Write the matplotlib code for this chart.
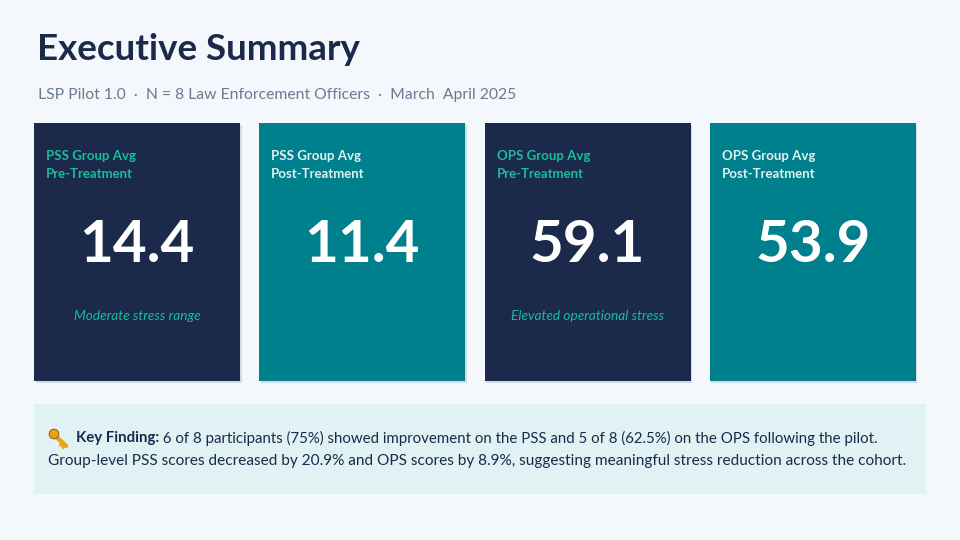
import matplotlib.pyplot as plt
from matplotlib.patches import Rectangle, Circle

# Card data
card_labels = [
    "PSS Group Avg\nPre-Treatment",
    "PSS Group Avg\nPost-Treatment",
    "OPS Group Avg\nPre-Treatment",
    "OPS Group Avg\nPost-Treatment",
]
card_values = [14.4, 11.4, 59.1, 53.9]
card_notes = ["Moderate stress range", "", "Elevated operational stress", ""]
card_kind = ["pre", "post", "pre", "post"]

title = "Executive Summary"
subtitle = "LSP Pilot 1.0  \u00b7  N = 8 Law Enforcement Officers  \u00b7  March  April 2025"
finding_bold = "Key Finding:"
finding_line1 = " 6 of 8 participants (75%) showed improvement on the PSS and 5 of 8 (62.5%) on the OPS following the pilot."
finding_line2 = "Group-level PSS scores decreased by 20.9% and OPS scores by 8.9%, suggesting meaningful stress reduction across the cohort."

BG = "#F4F7FB"
NAVY = "#1B2A4A"
TEAL = "#007F8C"
GREEN = "#1ABC9C"
LIGHT = "#E0F2F1"
BOX = "#E0F2F4"
FONT = "Lato"

fig = plt.figure(figsize=(9.6, 5.4), dpi=100, facecolor=BG)
ax = fig.add_axes([0, 0, 1, 1])
ax.set_xlim(0, 960)
ax.set_ylim(540, 0)
ax.axis("off")

ax.text(37, 49, title, fontsize=26.5, fontweight="bold", color=NAVY,
        family=FONT, va="center", ha="left")
ax.text(38, 95, subtitle, fontsize=11.3, color="#6B7A90",
        family=FONT, va="center", ha="left")

# cards
card_x0 = 34
card_w = 206
card_gap = 19.3
card_y0 = 123
card_h = 258
for i, (lab, val, note, kind) in enumerate(zip(card_labels, card_values, card_notes, card_kind)):
    x = card_x0 + i * (card_w + card_gap)
    face = NAVY if kind == "pre" else TEAL
    lab_color = GREEN if kind == "pre" else LIGHT
    # light shadow
    ax.add_patch(Rectangle((x + 1.5, card_y0 + 1.5), card_w, card_h,
                           facecolor="#D5DBE3", edgecolor="none", zorder=1))
    ax.add_patch(Rectangle((x, card_y0), card_w, card_h,
                           facecolor=face, edgecolor="none", zorder=2))
    ax.text(x + 12, 165.5, lab, fontsize=9.5, fontweight="bold", color=lab_color,
            family=FONT, va="center", ha="left", linespacing=1.6, zorder=3)
    ax.text(x + card_w / 2, 245, f"{val:.1f}", fontsize=42, fontweight="bold",
            color="white", family=FONT, va="center", ha="center", zorder=3)
    if note:
        ax.text(x + card_w / 2, 316, note, fontsize=9.8, style="italic",
                color=GREEN, family=FONT, va="center", ha="center", zorder=3)

# key finding box
ax.add_patch(Rectangle((34, 404), 892, 90, facecolor=BOX, edgecolor="none", zorder=1))

# simple key icon
ax.add_patch(Circle((54, 434), 4.8, facecolor="#E8A317", edgecolor="#9A6A0A", lw=0.8, zorder=3))
ax.plot([56.5, 66], [437, 446], color="#E8A317", lw=3.2, solid_capstyle="round", zorder=2)
ax.plot([62, 60.5], [442.5, 445], color="#E8A317", lw=2, zorder=2)
ax.plot([64.5, 63], [445, 447.5], color="#E8A317", lw=2, zorder=2)

fig.canvas.draw()
renderer = fig.canvas.get_renderer()
t_bold = ax.text(76, 438, finding_bold, fontsize=10.8, fontweight="bold", color=NAVY,
                 family=FONT, va="center", ha="left", zorder=3)
bb = t_bold.get_window_extent(renderer=renderer)
x_end = ax.transData.inverted().transform((bb.x1, bb.y0))[0]
ax.text(x_end, 438, finding_line1, fontsize=10.8, color=NAVY,
        family=FONT, va="center", ha="left", zorder=3)
ax.text(48, 461, finding_line2, fontsize=11.1, color=NAVY,
        family=FONT, va="center", ha="left", zorder=3)

fig.savefig("out.png", dpi=100, facecolor=BG)
